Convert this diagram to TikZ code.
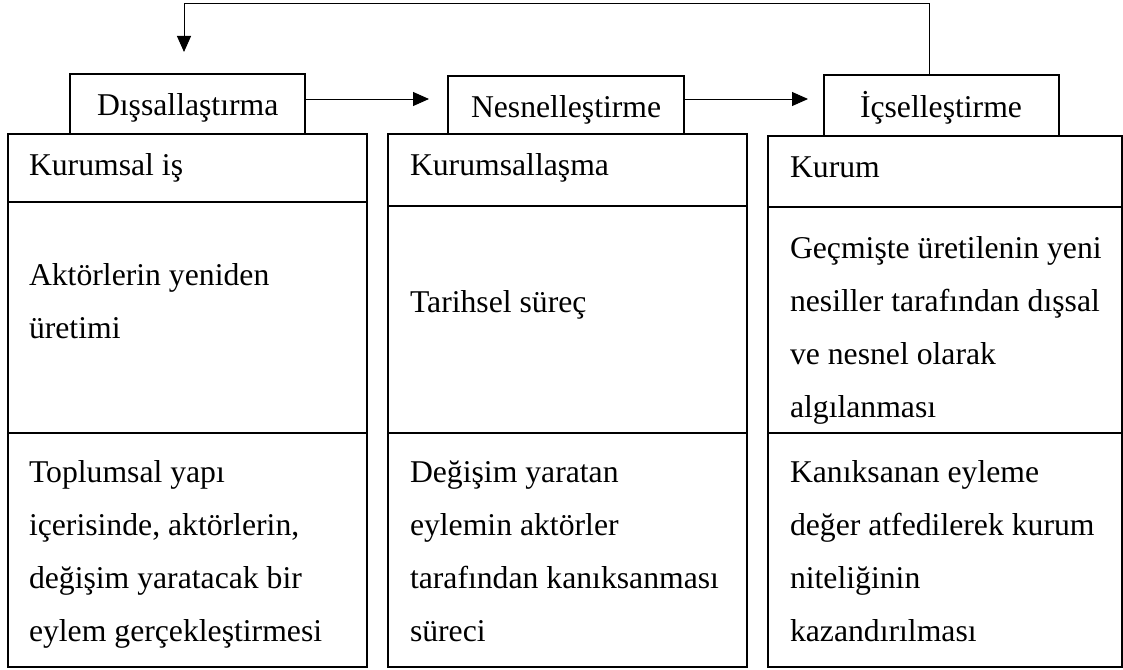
\documentclass[tikz,border=0pt]{standalone}
\usepackage{fontspec}
\setmainfont{Liberation Serif}
\usetikzlibrary{arrows.meta}
\newcommand\lines[1]{\begin{tabular}[t]{@{}l@{}}#1\end{tabular}}
\begin{document}
\begin{tikzpicture}[x=1pt,y=-1pt,
  cell/.style={draw=black, line width=2pt, anchor=north west, inner sep=0pt, outer sep=0pt},
  txt/.style={anchor=base west, inner sep=0pt, outer sep=0pt, font=\fontsize{31.7}{53}\selectfont},
  link/.style={line width=1pt, -{Triangle[length=16pt,width=14pt]}}]
\useasboundingbox (0,0) rectangle (1123,669);
% column 1
\node[cell, minimum width=359.5pt, minimum height=68pt]  (c1a) at (7.5,134) {};
\node[cell, minimum width=359.5pt, minimum height=231pt] (c1b) at (7.5,202) {};
\node[cell, minimum width=359.5pt, minimum height=234pt] (c1c) at (7.5,433) {};
% column 2
\node[cell, minimum width=359pt, minimum height=72pt]  (c2a) at (388,134) {};
\node[cell, minimum width=359pt, minimum height=227pt] (c2b) at (388,206) {};
\node[cell, minimum width=359pt, minimum height=234pt] (c2c) at (388,433) {};
% column 3
\node[cell, minimum width=353.5pt, minimum height=71pt]  (c3a) at (768,136) {};
\node[cell, minimum width=353.5pt, minimum height=226pt] (c3b) at (768,207) {};
\node[cell, minimum width=353.5pt, minimum height=234pt] (c3c) at (768,433) {};
% headers
\node[cell, minimum width=235pt, minimum height=60pt] (dis) at (70,74) {};
\node[cell, minimum width=236pt, minimum height=58pt] (nes) at (448,76) {};
\node[cell, minimum width=235pt, minimum height=61pt] (ic)  at (824,75) {};
% texts
\node[txt] (tdis) at (97,115)  {Dışsallaştırma};
\node[txt] (tnes) at (471,117) {Nesnelleştirme};
\node[txt] (tic)  at (860,117) {İçselleştirme};
\node[txt] (t1a) at (29,175)  {Kurumsal iş};
\node[txt] (t2a) at (410,175) {Kurumsallaşma};
\node[txt] (t3a) at (790,177) {Kurum};
\node[txt] (t1b) at (29,285)  {\lines{Aktörlerin yeniden\\üretimi}};
\node[txt] (t2b) at (410,312) {Tarihsel süreç};
\node[txt] (t3b) at (790,258) {\lines{Geçmişte üretilenin yeni\\nesiller tarafından dışsal\\ve nesnel olarak\\algılanması}};
\node[txt] (t1c) at (29,482)  {\lines{Toplumsal yapı\\içerisinde, aktörlerin,\\değişim yaratacak bir\\eylem gerçekleştirmesi}};
\node[txt] (t2c) at (410,482) {\lines{Değişim yaratan\\eylemin aktörler\\tarafından kanıksanması\\süreci}};
\node[txt] (t3c) at (790,482) {\lines{Kanıksanan eyleme\\değer atfedilerek kurum\\niteliğinin\\kazandırılması}};
% connectors
\coordinate (ay) at (0,99);
\coordinate (fr) at (929,3.5);
\coordinate (fl) at (184,3.5);
\draw[link, shorten >=19pt] (dis.east |- ay) -- (nes.west |- ay);
\draw[link, shorten >=16pt] (nes.east |- ay) -- (ic.west |- ay);
\draw[link, shorten >=22pt] (ic.north -| fr) -- (fr) -- (fl) -- (dis.north -| fl);
\end{tikzpicture}
\end{document}
